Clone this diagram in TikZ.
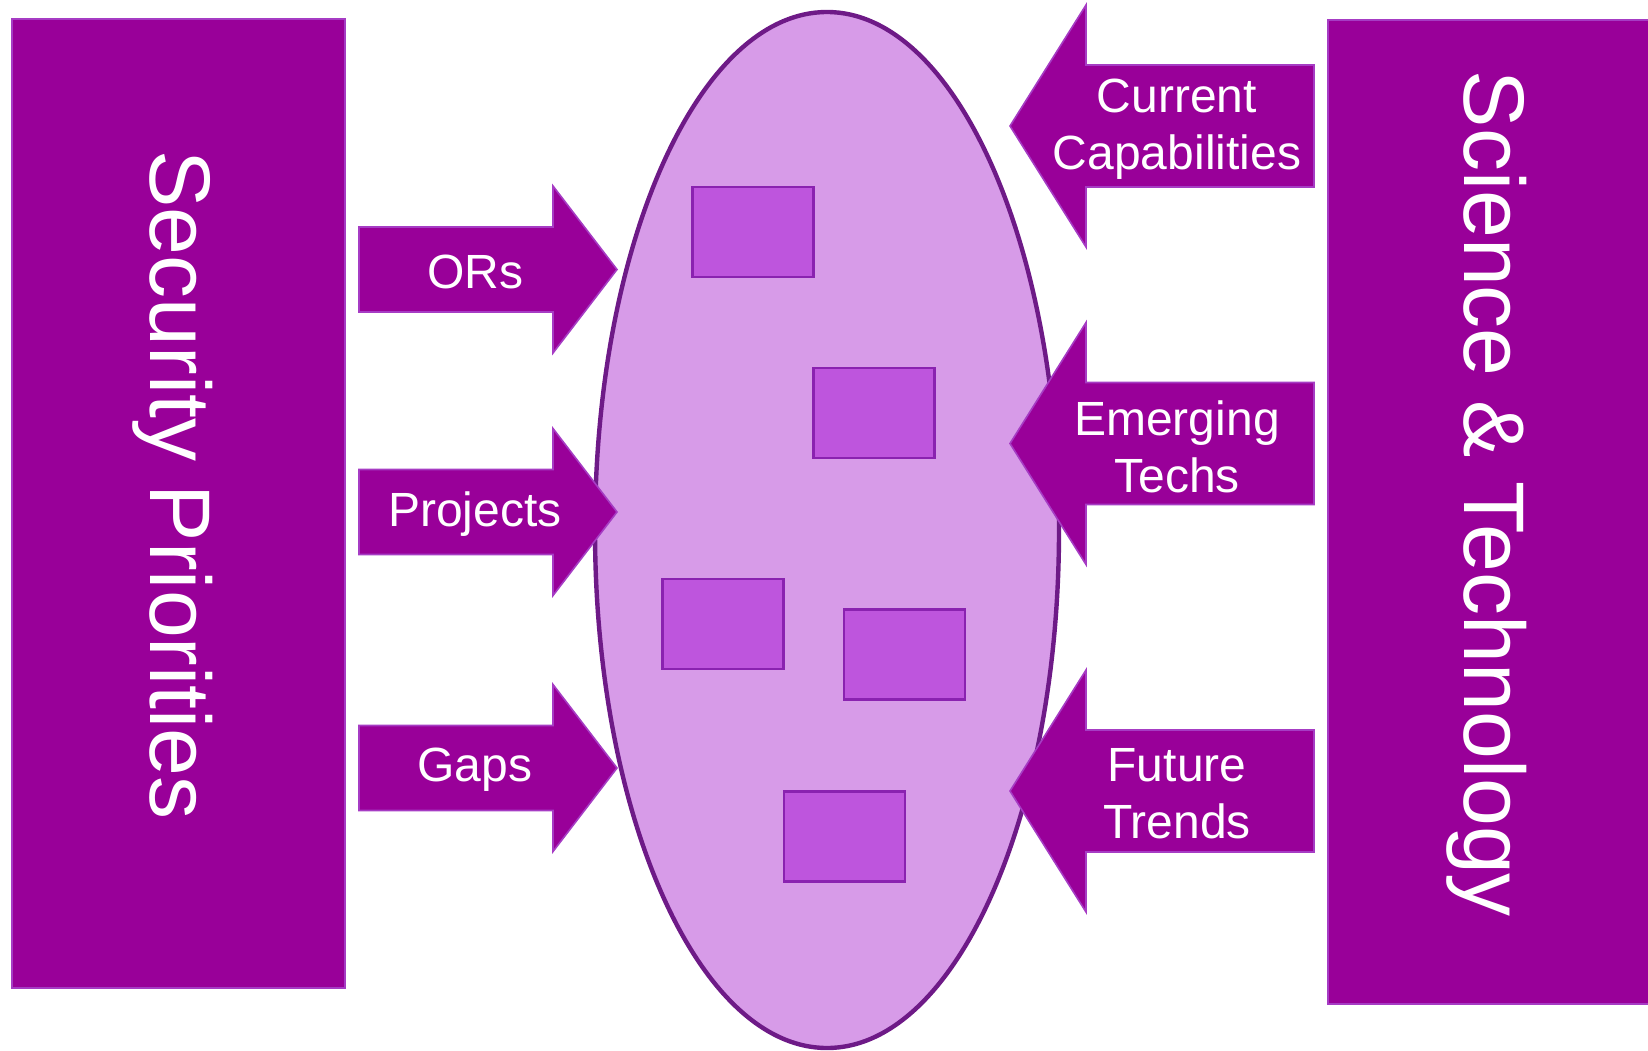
\documentclass[tikz,border=0pt]{standalone}
\usepackage{fontspec}
\setmainfont{Liberation Sans}
\usetikzlibrary{shapes.geometric}

\definecolor{plum}{HTML}{990099}
\definecolor{plumedge}{HTML}{A63CC4}
\definecolor{lilac}{HTML}{D79BE8}
\definecolor{lilacedge}{HTML}{6E1A87}
\definecolor{orchid}{HTML}{BE55DD}
\definecolor{orchidedge}{HTML}{8A22B0}

\tikzset{
    panel/.style={fill=plum, draw=plumedge, line width=0.6pt},
    bigtext/.style={text=white, font=\fontsize{43}{48}\selectfont, rotate=-90},
    flow/.style={fill=plum, draw=plumedge, line width=0.8pt, line join=miter},
    flowtext/.style={text=white, align=center, font=\fontsize{24}{28.5}\selectfont},
    block/.style={fill=orchid, draw=orchidedge, line width=1.2pt, minimum width=60.5pt, minimum height=45pt, inner sep=0pt}
}

\begin{document}
\begin{tikzpicture}[x=0.5pt, y=-0.5pt]
    \useasboundingbox (0,0) rectangle (1648,1050);

        % the pool in the middle
        \node[ellipse, fill=lilac, draw=lilacedge, line width=2.2pt, minimum width=232pt, minimum height=518pt, inner sep=0pt] (pool) at (827,530) {};
        \node[block] (b1) at (753,232) {};
        \node[block] (b2) at (874,413) {};
        \node[block] (b3) at (723,624) {};
        \node[block] (b4) at (904.5,654.5) {};
        \node[block] (b5) at (844.5,836.5) {};

        % side panels
        \draw[panel] (12,19) rectangle (345,988);
        \node[bigtext] (secp) at (173,485) {Security Priorities};
        \draw[panel] (1328,20) rectangle (1660,1004);
        \node[bigtext] (scitech) at (1487,494) {Science \& Technology};

        % arrows into the pool
        \foreach \name/\y/\txt in {ors/269.5/ORs, proj/512/Projects, gaps/768/Gaps}{
            \draw[flow] (359,\y-42.5) -- (553,\y-42.5) -- (553,\y-83.5) -- (617,\y)
                -- (553,\y+83.5) -- (553,\y+42.5) -- (359,\y+42.5) -- cycle;
            \node[flowtext] (\name) at (475,\y+2) {\txt};
        }

        % arrows from science side
        \foreach \name/\y/\txt in {curr/126/Current\\Capabilities, emer/443.5/Emerging\\Techs, fut/791/Future\\Trends}{
            \draw[flow] (1314,\y-61) -- (1086,\y-61) -- (1086,\y-121) -- (1010,\y)
                -- (1086,\y+121) -- (1086,\y+61) -- (1314,\y+61) -- cycle;
            \node[flowtext] (\name) at (1177,\y+3) {\txt};
        }

\end{tikzpicture}
\end{document}
